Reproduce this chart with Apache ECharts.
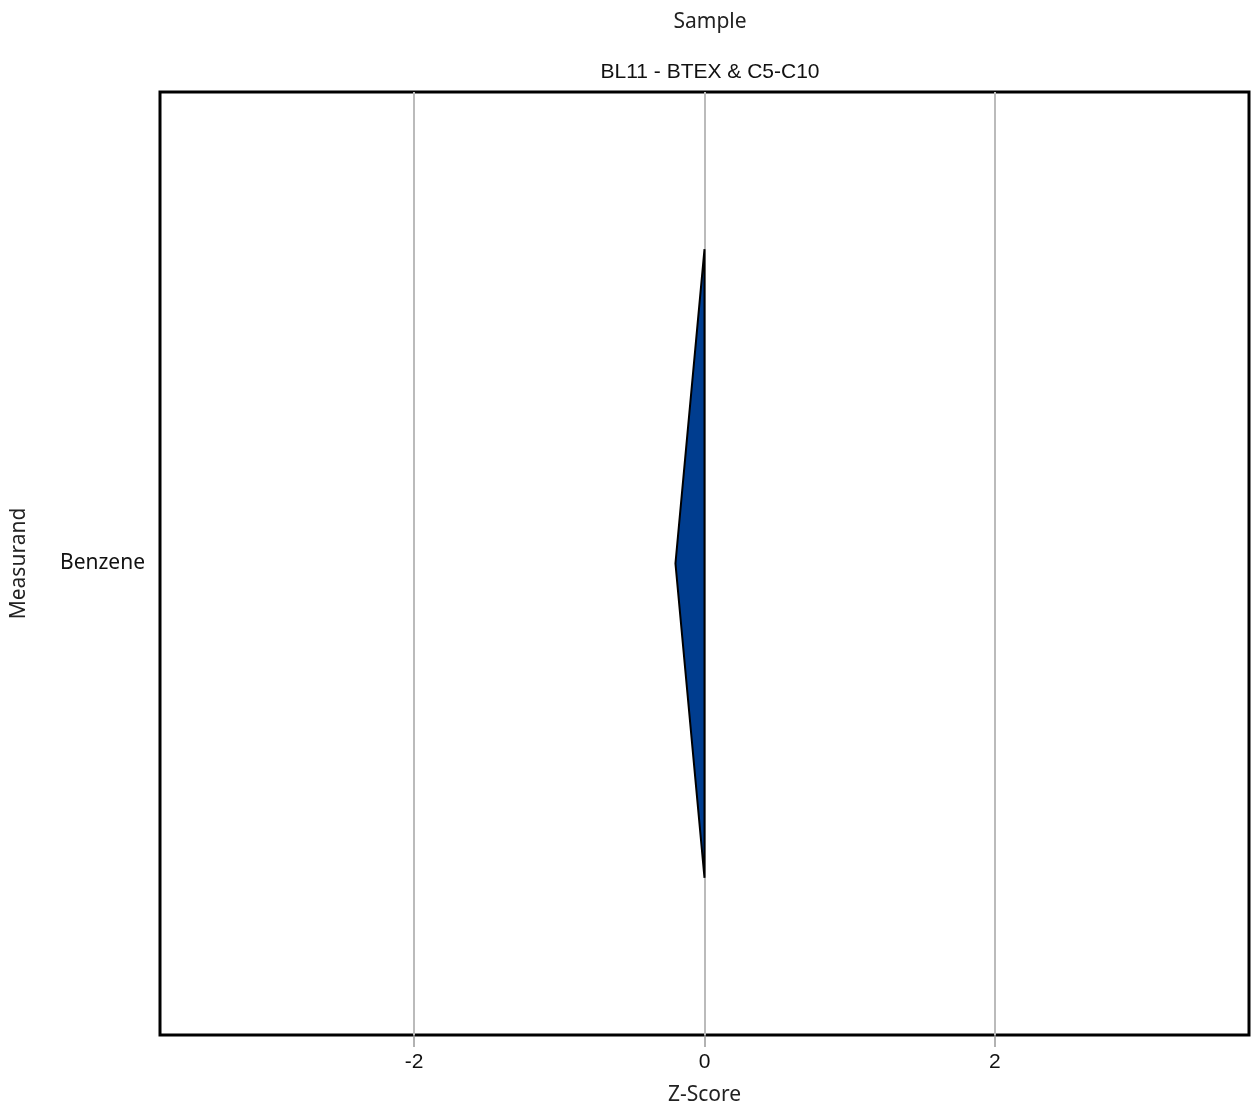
<!DOCTYPE html>
<html>
<head>
<meta charset="utf-8">
<script src="https://cdn.jsdelivr.net/npm/echarts@6/dist/echarts.min.js"></script>
<style>html,body{margin:0;padding:0;background:#fff;}#c{width:1251px;height:1111px;}</style>
</head>
<body>
<div id="c"></div>
<script>
const categories = ['Benzene'];
const baseZ = [0];
const tipZ = [-0.2];
const xTicks = [-2, 0, 2];

const chart = echarts.init(document.getElementById('c'));
const data = categories.map((c, i) => [baseZ[i], tipZ[i], i]);

chart.setOption({
  animation: false,
  backgroundColor: '#fff',
  title: [
    { text: 'Sample', left: 705, textAlign: 'center', top: 7, textStyle: { fontFamily: 'Noto Sans', fontSize: 21, fontWeight: 'normal', color: '#222' } },
    { text: 'BL11 - BTEX & C5-C10', left: 705, textAlign: 'center', top: 57, textStyle: { fontFamily: 'Liberation Sans', fontSize: 21, fontWeight: 'normal', color: '#111' } }
  ],
  grid: { left: 160, right: 2, top: 92, bottom: 74, show: true, borderColor: '#000', borderWidth: 3, backgroundColor: 'transparent' },
  xAxis: {
    type: 'value', min: -3.75, max: 3.75,
    name: 'Z-Score', nameLocation: 'middle', nameGap: 50,
    nameTextStyle: { fontFamily: 'Noto Sans', fontSize: 21, color: '#222' },
    axisLine: { show: false },
    axisTick: { show: true, customValues: xTicks, length: 12, lineStyle: { color: '#999', width: 1.5 } },
    axisLabel: { customValues: xTicks, fontFamily: 'Liberation Sans', fontSize: 21, color: '#111', margin: 17 },
    splitLine: { show: true, customValues: xTicks, lineStyle: { color: '#bbb', width: 2 } }
  },
  yAxis: {
    type: 'category', data: categories,
    name: 'Measurand', nameLocation: 'middle', nameGap: 130, nameRotate: 90,
    nameTextStyle: { fontFamily: 'Noto Sans', fontSize: 21, color: '#222' },
    axisLine: { show: false },
    axisTick: { show: true, alignWithLabel: true, length: 12, lineStyle: { color: '#999', width: 1.5 } },
    axisLabel: { fontFamily: 'Noto Sans', fontSize: 21, color: '#111', margin: 15 },
    splitLine: { show: false }
  },
  series: [{
    type: 'custom',
    z: 5,
    data: data,
    encode: { x: [0, 1], y: 2 },
    renderItem: function (params, api) {
      const base = api.value(0), tip = api.value(1), cat = api.value(2);
      const center = api.coord([base, cat]);
      const tipPt = api.coord([tip, cat]);
      const half = api.size([0, 1])[1] / 3;
      return {
        type: 'polygon',
        shape: { points: [[center[0], center[1] - half], [tipPt[0], tipPt[1]], [center[0], center[1] + half]] },
        style: { fill: '#003D8F', stroke: '#000', lineWidth: 2 }
      };
    }
  }]
});
</script>
</body>
</html>
